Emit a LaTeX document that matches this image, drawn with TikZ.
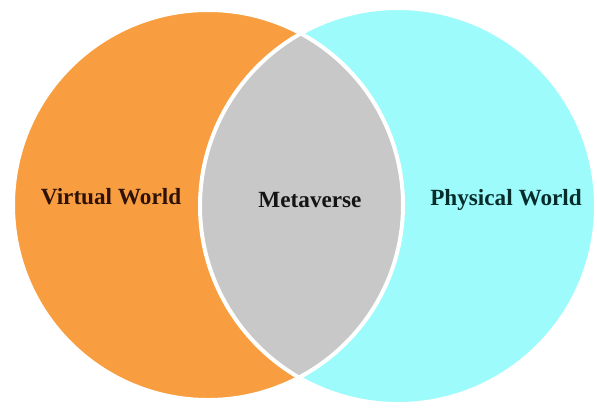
\documentclass[tikz,border=0pt]{standalone}
\usepackage{fontspec}
\setmainfont{Liberation Serif}
\definecolor{virt}{HTML}{F89E40}
\definecolor{phys}{HTML}{9DFBFB}
\definecolor{meta}{HTML}{C8C8C8}
\definecolor{virttxt}{HTML}{2E1206}
\definecolor{phystxt}{HTML}{062C2C}
\definecolor{metatxt}{HTML}{141414}
\usetikzlibrary{positioning}
\tikzset{
  sep/.style={draw=white,line width=2pt},
  lab/.style={font=\fontsize{11.6}{13}\selectfont\bfseries,anchor=base,inner sep=0pt},
}
\begin{document}
\begin{tikzpicture}[x=0.5pt,y=-0.5pt]
\useasboundingbox (0,0) rectangle (597,409);
\coordinate (vc) at (208,205);
\coordinate (pc) at (398,206);
% the two worlds
\fill[virt] (vc) circle (195);
\fill[phys] (pc) circle (198);
% overlap
\begin{scope}
  \clip (vc) circle (195);
  \fill[meta] (pc) circle (198);
\end{scope}
\draw[sep] (vc) circle (195);
\draw[sep] (pc) circle (198);
% labels
\node[lab,text=virttxt] (vw) at (111,204) {Virtual World};
\node[lab,text=metatxt] (mv) at (310,207) {Metaverse};
\node[lab,text=phystxt] (pw) at (506,205) {Physical World};
\end{tikzpicture}
\end{document}
